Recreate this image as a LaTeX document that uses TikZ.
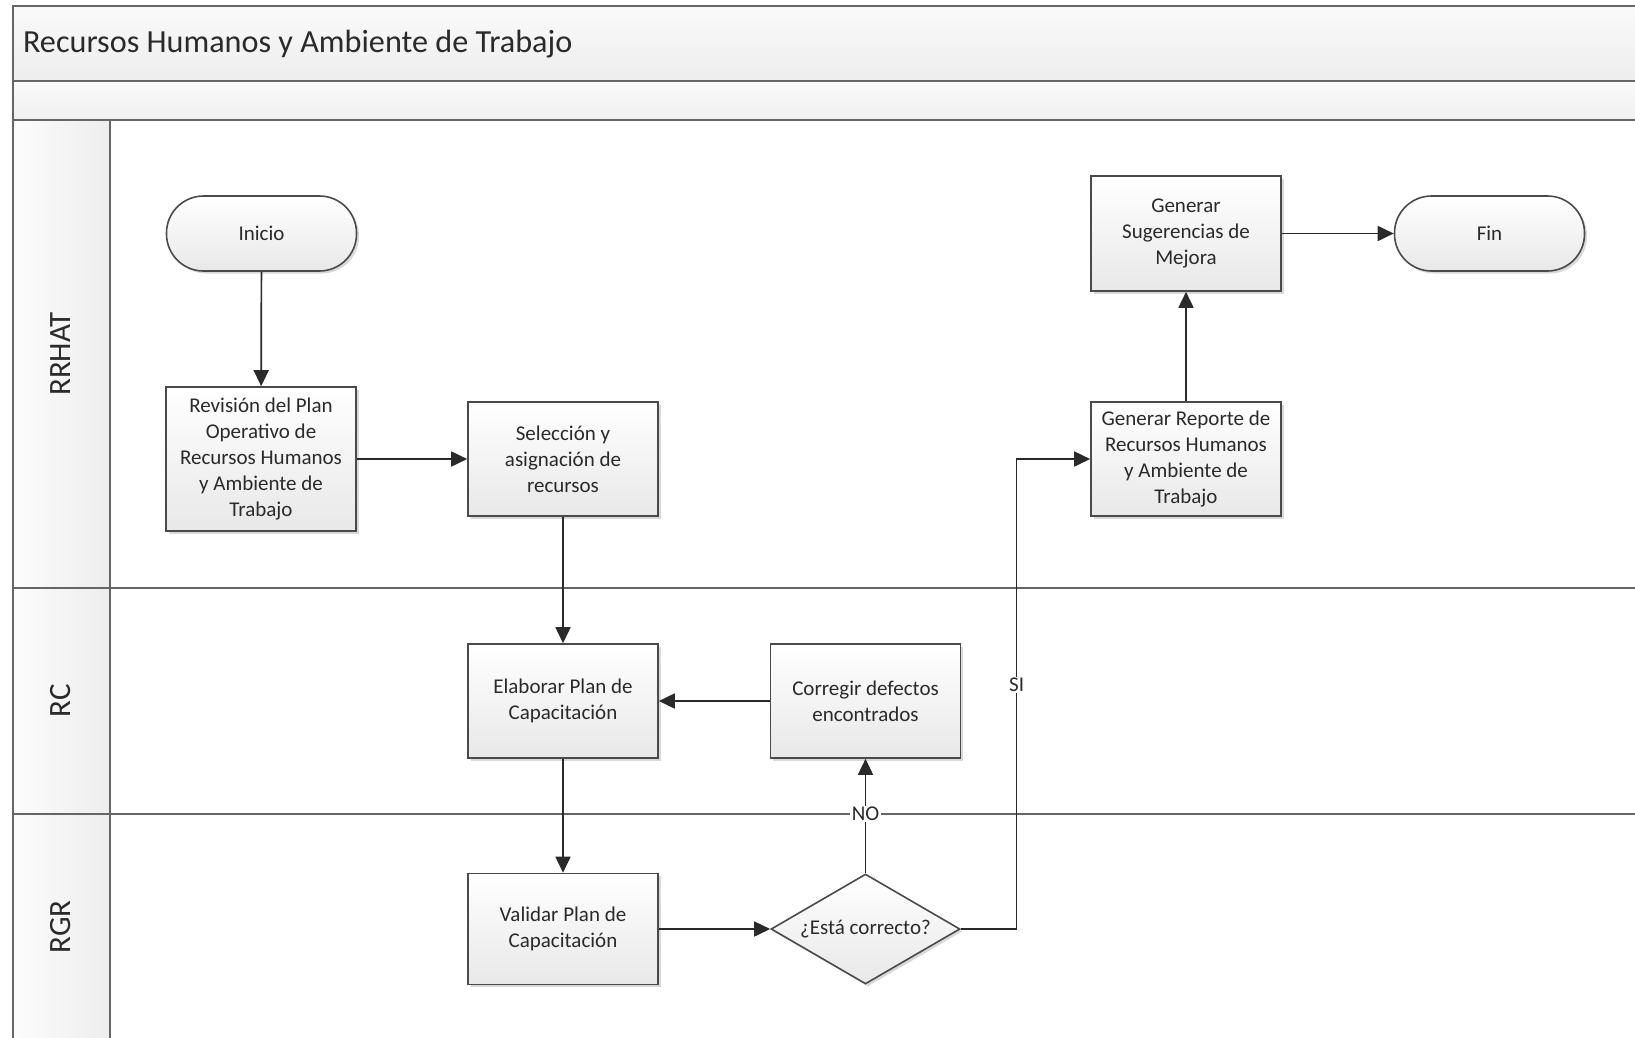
\documentclass[tikz,border=0pt]{standalone}
\usepackage{fontspec}
\setmainfont{Carlito}
\usetikzlibrary{shapes.geometric,arrows.meta,shadows}

\definecolor{edge}{HTML}{4A4A4A}
\definecolor{ink}{HTML}{2A2A2A}
\definecolor{rule}{HTML}{666666}

\begin{document}
\begin{tikzpicture}[x=1pt,y=-1pt,
  every node/.style={text=ink},
  box/.style={draw=edge, line width=1.6pt, top color=white, bottom color=black!9,
    minimum width=190pt, minimum height=114pt, align=center, inner sep=0pt,
    font=\fontsize{21}{25.8}\selectfont,
    drop shadow={shadow xshift=2.5pt, shadow yshift=-2.5pt, opacity=0.15, fill=black}},
  term/.style={box, rounded corners=37pt, minimum height=75pt},
  decision/.style={box, diamond, aspect=1.7, minimum width=189pt, minimum height=110pt},
  flow/.style={draw=ink, line width=1.7pt, -{Triangle[length=16pt,width=15pt]}},
  lbl/.style={fill=white, inner sep=1.5pt, font=\fontsize{21}{24}\selectfont},
  lane/.style={font=\fontsize{31}{36}\selectfont, rotate=90},
]
\useasboundingbox (0,0) rectangle (1635,1037);
\begin{scope}
\clip (0,0) rectangle (1635,1037);
% header bands
\shade[top color=black!2, bottom color=black!7] (12.5,6.3) rectangle (1645,81.3);
\shade[top color=black!2, bottom color=black!6] (12.5,81.3) rectangle (1645,119.9);
% lane label column
\shade[left color=black!1, right color=black!7] (12.5,119.9) rectangle (109.5,1047);
% outer frame and lane rules
\draw[rule, line width=2pt] (12.5,1047) -- (12.5,6.3) -- (1645,6.3);
\draw[rule, line width=2pt] (12.5,81.3) -- (1645,81.3);
\draw[rule, line width=2pt] (12.5,119.9) -- (1645,119.9);
\draw[rule, line width=2pt] (12.5,588) -- (1645,588);
\draw[rule, line width=2pt] (12.5,814) -- (1645,814);
\draw[rule, line width=2pt] (109.5,119.9) -- (109.5,1047);
\end{scope}

\node[anchor=west, font=\fontsize{32.2}{36}\selectfont] (title) at (19.5,44) {Recursos Humanos y Ambiente de Trabajo};

\node[lane] (l1) at (60.5,354) {RRHAT};
\node[lane] (l2) at (60.5,701) {RC};
\node[lane] (l3) at (60.5,927) {RGR};

% process steps
\node[term] (inicio) at (261.5,233.5) {Inicio};
\node[box, minimum height=144pt] (rev) at (261,459) {Revisión del Plan\\Operativo de\\Recursos Humanos\\y Ambiente de\\Trabajo};
\node[box] (sel) at (563,459) {Selección y\\asignación de\\recursos};
\node[box] (elab) at (563,701) {Elaborar Plan de\\Capacitación};
\node[box] (corr) at (865.5,701) {Corregir defectos\\encontrados};
\node[box, minimum height=111pt] (val) at (563,929) {Validar Plan de\\Capacitación};
\node[decision] (dec) at (865.5,929) {¿Está correcto?};
\node[box] (rep) at (1186,459) {Generar Reporte de\\Recursos Humanos\\y Ambiente de\\Trabajo};
\node[box, minimum height=115pt] (sug) at (1186,233.5) {Generar\\Sugerencias de\\Mejora};
\node[term] (fin) at (1489.5,233.5) {Fin};

% connectors
\draw[flow] (inicio) -- (rev);
\draw[flow] (rev) -- (sel);
\draw[flow] (sel) -- (elab);
\draw[flow] (corr) -- (elab);
\draw[flow] (elab) -- (val);
\draw[flow] (val) -- (dec);
\draw[flow] (dec) -- (corr);
\coordinate (siturn) at (1016.6,929);
\draw[flow] (dec.east) -- (siturn) |- (rep.west);
\draw[flow] (rep) -- (sug);
\draw[flow] (sug) -- (fin);

\node[lbl] (no) at (865.5,814) {NO};
\node[lbl] (si) at (1016.6,685) {SI};
\end{tikzpicture}
\end{document}
